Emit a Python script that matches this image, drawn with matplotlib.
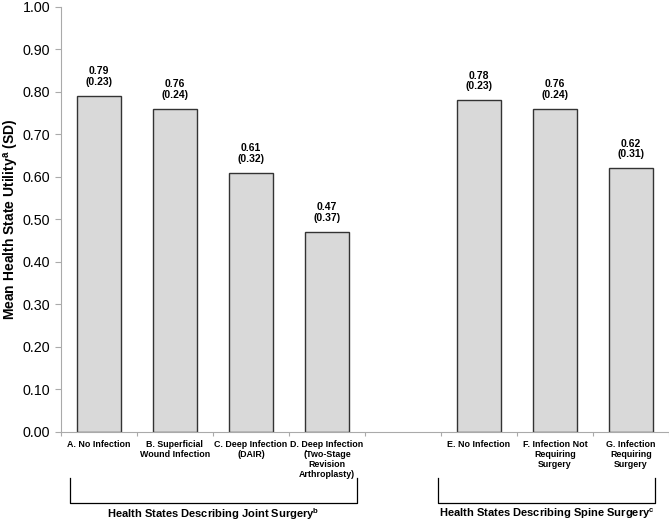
import matplotlib
matplotlib.use("Agg")
import matplotlib.pyplot as plt
from matplotlib.transforms import blended_transform_factory

plt.rcParams['font.family'] = ['Liberation Sans', 'DejaVu Sans']

categories = ["A. No Infection", "B. Superficial\nWound Infection", "C. Deep Infection\n(DAIR)",
              "D. Deep Infection\n(Two-Stage\nRevision\nArthroplasty)",
              "E. No Infection", "F. Infection Not\nRequiring\nSurgery", "G. Infection\nRequiring\nSurgery"]
means = [0.79, 0.76, 0.61, 0.47, 0.78, 0.76, 0.62]
sds = [0.23, 0.24, 0.32, 0.37, 0.23, 0.24, 0.31]
positions = [0, 1, 2, 3, 5, 6, 7]
group_labels = ["Health States Describing Joint Surgery$^{\\mathregular{b}}$",
                "Health States Describing Spine Surgery$^{\\mathregular{c}}$"]
yticks = [0.0, 0.1, 0.2, 0.3, 0.4, 0.5, 0.6, 0.7, 0.8, 0.9, 1.0]

fig = plt.figure(figsize=(6.69, 5.21), dpi=100)
ax = fig.add_axes([0.091, 0.171, 0.909, 0.8156])

ax.bar(positions, means, width=0.58, color="#d9d9d9", edgecolor="#333333", linewidth=1.0, zorder=2)
for p, m, s in zip(positions, means, sds):
    ax.annotate(f"{m:.2f}\n({s:.2f})", (p, m), xytext=(0, 6.5), textcoords="offset points",
                ha="center", va="bottom", fontsize=7.5, fontweight="bold", linespacing=1.1)

ax.set_xlim(-0.5, 7.5)
ax.set_ylim(0, 1.0)
ax.set_yticks(yticks)
ax.set_yticklabels([f"{v:.2f}" for v in yticks], fontsize=10.3)
ax.set_ylabel("Mean Health State Utility$^{\\mathregular{a}}$ (SD)", fontsize=10.0, fontweight="bold")
ax.yaxis.set_label_coords(-0.065, 0.5)

ax.set_xticks([p + 0.5 for p in range(-1, 8)], minor=False)
ax.set_xticklabels([])
ax.tick_params(axis="x", length=3, color="#aaaaaa", direction="out")
ax.tick_params(axis="y", length=4, color="#aaaaaa", direction="out")
tr = blended_transform_factory(ax.transData, ax.transAxes)
for p, lab in zip(positions, categories):
    ax.text(p, -0.018, lab, ha="center", va="top", fontsize=6.4, fontweight="bold",
            transform=tr, linespacing=1.17)

for s in ["top", "right"]:
    ax.spines[s].set_visible(False)
for s in ["left", "bottom"]:
    ax.spines[s].set_color("#aaaaaa")

brackets = [(-0.38, 3.39), (4.46, 7.32)]
y_top, y_bot = -0.108, -0.167
for (x0, x1), lab in zip(brackets, group_labels):
    ax.plot([x0, x0, x1, x1], [y_top, y_bot, y_bot, y_top], color="black", lw=0.9,
            transform=tr, clip_on=False)
    ax.text((x0 + x1) / 2, -0.193, lab, ha="center", va="center", fontsize=8, fontweight="bold",
            transform=tr)

fig.savefig("out.png", dpi=100)
